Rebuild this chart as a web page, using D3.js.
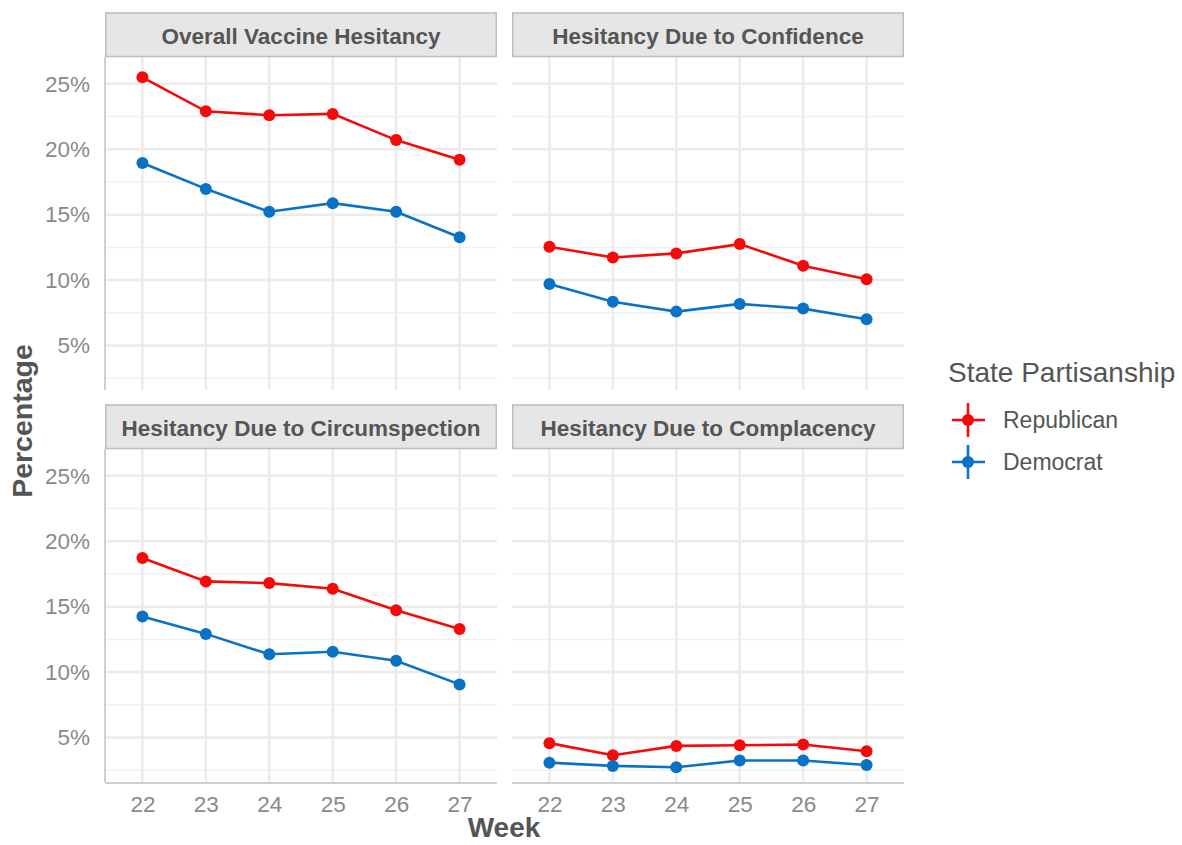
<!DOCTYPE html>
<html>
<head>
<meta charset="utf-8">
<script src="https://cdn.jsdelivr.net/npm/d3@7"></script>
<style>
  body { margin: 0; background: #fff; }
  svg { font-family: Arial, "Liberation Sans", sans-serif; }
</style>
</head>
<body>
<svg id="chart" width="1182" height="845"></svg>
<script>
// data
var weeks = [22, 23, 24, 25, 26, 27];
var panelTitles = ["Overall Vaccine Hesitancy", "Hesitancy Due to Confidence",
                   "Hesitancy Due to Circumspection", "Hesitancy Due to Complacency"];
var seriesNames = ["Republican", "Democrat"];
var seriesColors = ["#f50a0a", "#0a72c4"];

var overallRep = [25.5, 22.9, 22.6, 22.7, 20.7, 19.2];
var overallDem = [18.95, 16.97, 15.22, 15.88, 15.22, 13.28];
var confidenceRep = [12.55, 11.73, 12.04, 12.75, 11.1, 10.06];
var confidenceDem = [9.7, 8.35, 7.59, 8.18, 7.82, 7.01];
var circumRep = [18.72, 16.93, 16.8, 16.37, 14.73, 13.3];
var circumDem = [14.25, 12.92, 11.36, 11.56, 10.87, 9.06];
var complacRep = [4.57, 3.65, 4.36, 4.41, 4.46, 3.95];
var complacDem = [3.08, 2.83, 2.73, 3.24, 3.24, 2.9];

var yTicks = [5, 10, 15, 20, 25];
var yMinor = [2.5, 7.5, 12.5, 17.5, 22.5];

var panels = [
  {title: panelTitles[0], col: 0, row: 0, values: [overallRep, overallDem]},
  {title: panelTitles[1], col: 1, row: 0, values: [confidenceRep, confidenceDem]},
  {title: panelTitles[2], col: 0, row: 1, values: [circumRep, circumDem]},
  {title: panelTitles[3], col: 1, row: 1, values: [complacRep, complacDem]}
];

var svg = d3.select("#chart");
var panelW = 392, panelH = 333, stripH = 44;
var colX = [105, 512];
var rowY = [57, 449];

var x = d3.scaleLinear().domain([21.41, 27.59]).range([0, panelW]);
var y = d3.scaleLinear().domain([1.6, 27.05]).range([panelH, 0]);

var gridColor = "#ebebeb";
var textGray = "#8a8a8a";
var darkGray = "#555555";

panels.forEach(function(p){
  var g = svg.append("g").attr("transform", "translate(" + colX[p.col] + "," + rowY[p.row] + ")");

  // minor grid
  g.selectAll(".minor").data(yMinor).enter().append("line")
    .attr("x1", 0).attr("x2", panelW)
    .attr("y1", function(d){ return y(d); }).attr("y2", function(d){ return y(d); })
    .attr("stroke", "#f0f0f0").attr("stroke-width", 1.5);
  // major grid
  g.selectAll(".hmaj").data(yTicks).enter().append("line")
    .attr("x1", 0).attr("x2", panelW)
    .attr("y1", function(d){ return y(d); }).attr("y2", function(d){ return y(d); })
    .attr("stroke", gridColor).attr("stroke-width", 2.5);
  g.selectAll(".vmaj").data(weeks).enter().append("line")
    .attr("y1", 0).attr("y2", panelH)
    .attr("x1", function(d){ return x(d); }).attr("x2", function(d){ return x(d); })
    .attr("stroke", gridColor).attr("stroke-width", 2.5);

  // axis lines
  if (p.col === 0) {
    g.append("line").attr("x1", 0).attr("x2", 0).attr("y1", 0).attr("y2", panelH)
      .attr("stroke", "#cfcfcf").attr("stroke-width", 2);
    var ya = g.append("g").call(d3.axisLeft(y).tickValues(yTicks).tickSize(0).tickPadding(15)
      .tickFormat(function(d){ return d + "%"; }));
    ya.select(".domain").remove();
    ya.selectAll("text").attr("fill", textGray).style("font-size", "22.5px");
  }
  if (p.row === 1) {
    g.append("line").attr("x1", 0).attr("x2", panelW).attr("y1", panelH + 1).attr("y2", panelH + 1)
      .attr("stroke", "#cfcfcf").attr("stroke-width", 2);
    var xa = g.append("g").attr("transform", "translate(0," + (panelH + 1) + ")")
      .call(d3.axisBottom(x).tickValues(weeks).tickSize(0).tickPadding(13).tickFormat(d3.format("d")));
    xa.select(".domain").remove();
    xa.selectAll("text").attr("fill", textGray).style("font-size", "22.5px");
  }

  // strip
  g.append("rect").attr("x", 0.75).attr("y", -stripH).attr("width", panelW - 1.5).attr("height", stripH - 0.5)
    .attr("fill", "#e6e6e6").attr("stroke", "#bdbdbd").attr("stroke-width", 1.5);
  g.append("text").attr("x", panelW / 2).attr("y", -stripH / 2 + 1)
    .attr("text-anchor", "middle").attr("dominant-baseline", "central")
    .attr("fill", darkGray).style("font-size", "22.5px").style("font-weight", "bold")
    .text(p.title);

  // series
  var line = d3.line().x(function(d, i){ return x(weeks[i]); }).y(function(d){ return y(d); });
  p.values.forEach(function(vals, k){
    g.append("path").datum(vals).attr("d", line)
      .attr("fill", "none").attr("stroke", seriesColors[k]).attr("stroke-width", 2.6);
    g.selectAll(".pt" + k).data(vals).enter().append("circle")
      .attr("cx", function(d, i){ return x(weeks[i]); })
      .attr("cy", function(d){ return y(d); })
      .attr("r", 6).attr("fill", seriesColors[k]);
  });
});

// axis titles
svg.append("text").attr("transform", "translate(22,421) rotate(-90)")
  .attr("text-anchor", "middle").attr("dominant-baseline", "central")
  .attr("fill", darkGray).style("font-size", "28.5px").style("font-weight", "bold")
  .text("Percentage");
svg.append("text").attr("x", 504).attr("y", 837)
  .attr("text-anchor", "middle")
  .attr("fill", darkGray).style("font-size", "28px").style("font-weight", "bold")
  .text("Week");

// legend
var legend = svg.append("g").attr("transform", "translate(948,0)");
legend.append("text").attr("x", 0).attr("y", 382)
  .attr("fill", darkGray).style("font-size", "28px").text("State Partisanship");
var items = legend.selectAll(".item").data(seriesNames).enter().append("g")
  .attr("transform", function(d, i){ return "translate(20," + (420 + i * 42) + ")"; });
items.append("line").attr("x1", -16).attr("x2", 17).attr("y1", 0).attr("y2", 0)
  .attr("stroke", function(d, i){ return seriesColors[i]; }).attr("stroke-width", 2.6);
items.append("line").attr("x1", 0).attr("x2", 0).attr("y1", -17).attr("y2", 17)
  .attr("stroke", function(d, i){ return seriesColors[i]; }).attr("stroke-width", 2.6);
items.append("circle").attr("r", 6).attr("fill", function(d, i){ return seriesColors[i]; });
items.append("text").attr("x", 35).attr("y", 0).attr("dominant-baseline", "central")
  .attr("fill", darkGray).style("font-size", "23px").text(function(d){ return d; });
</script>
</body>
</html>
